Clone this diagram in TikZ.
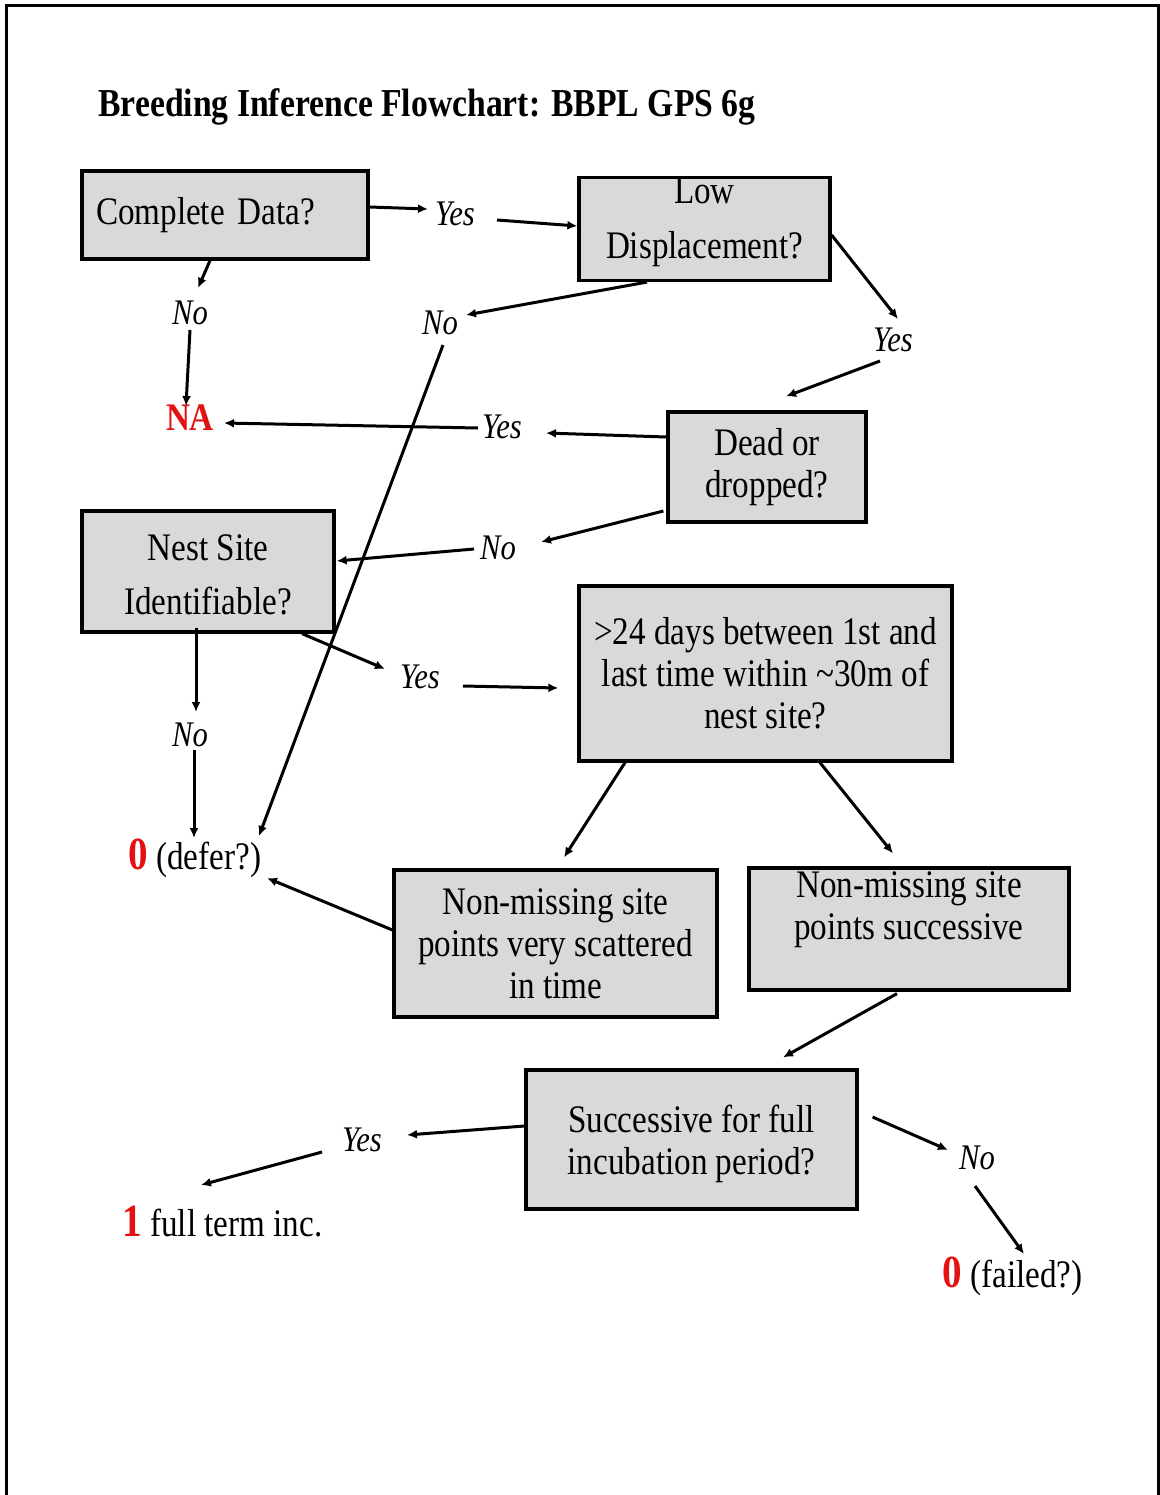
\documentclass[tikz,border=0pt]{standalone}
\usepackage{fontspec}
\setmainfont{Liberation Serif}[FakeStretch=0.85]
\usetikzlibrary{arrows.meta}
\definecolor{boxgray}{RGB}{217,217,217}
\definecolor{resred}{RGB}{226,18,18}
\newcommand{\resultat}[1]{{\fontsize{23}{25}\selectfont\bfseries\color{resred}#1}}
\tikzset{
  >={Latex[length=5pt,width=4.5pt]},
  question/.style={draw=black, line width=1.6pt, fill=boxgray, align=center,
    font=\fontsize{19.5}{21}\selectfont, inner sep=2pt, minimum width=#1},
  question/.default=150pt,
  reponse/.style={font=\fontsize{18}{20}\selectfont\itshape, inner sep=0pt},
  issue/.style={font=\fontsize{19.5}{21}\selectfont, inner sep=0pt, anchor=base west},
  fleche/.style={->, line width=1.5pt},
  cadre/.style={line width=1.5pt},
}
\begin{document}
\begin{tikzpicture}[x=0.5pt,y=-0.5pt]
  \useasboundingbox (0,0) rectangle (1160,1495);
  \draw[cadre] (6,1495) -- (6,5) -- (1158,5) -- (1158,1495);
  \node[font=\fontsize{19.8}{22}\selectfont\bfseries, anchor=base west, inner sep=0pt] (titre) at (98,116) {Breeding Inference Flowchart: BBPL GPS 6g};
  % Questions
  \node[question=143pt, minimum height=44pt, align=left, text width=129pt, inner xsep=7pt] (complete) at (225,215) {Complete Data?};
  \node[question=125.5pt, minimum height=51pt, font=\fontsize{19.5}{27.5}\selectfont, inner ysep=0pt, text depth=11.2pt] (lowdisp) at (704.5,229) {Low\\ Displacement?};
  \node[question=99pt, minimum height=55pt] (dead) at (767,467) {Dead or\\ dropped?};
  \node[question=126pt, minimum height=60.5pt, font=\fontsize{19.5}{27}\selectfont, text height=43pt] (nest) at (208,571.5) {Nest Site\\ Identifiable?};
  \node[question=186.5pt, minimum height=87.5pt] (days) at (765.5,673.5) {>24 days between 1st and\\ last time within \textasciitilde30m of\\ nest site?};
  \node[question=161.5pt, minimum height=73.5pt] (scattered) at (555.5,943.5) {Non-missing site\\ points very scattered\\ in time};
  \node[question=160pt, minimum height=61pt, inner ysep=0pt, text depth=23pt] (successive) at (909,929) {Non-missing site\\ points successive};
  \node[question=165.5pt, minimum height=69.5pt, text height=39pt] (fullinc) at (691.5,1139.5) {Successive for full\\ incubation period?};
  % Reponses
  \node[reponse] (yesA) at (455,214) {Yes};
  \node[reponse] (noA) at (190,313) {No};
  \node[reponse] (noB) at (440,323) {No};
  \node[reponse] (yesB) at (893,340) {Yes};
  \node[reponse] (yesC) at (502,427) {Yes};
  \node[reponse] (noC) at (498,548) {No};
  \node[reponse] (yesD) at (420,677) {Yes};
  \node[reponse] (noD) at (190,735) {No};
  \node[reponse] (yesE) at (362,1140) {Yes};
  \node[reponse] (noE) at (977,1158) {No};
  % Issues
  \node[inner sep=0pt, font=\fontsize{19.5}{21}\selectfont\bfseries, text=resred] (na) at (190,418) {NA};
  \node[issue] (defer) at (128,869) {\resultat{0} (defer?)};
  \node[issue] (fullterm) at (122,1236) {\resultat{1} full term inc.};
  \node[issue] (failed) at (942,1287) {\resultat{0} (failed?)};
  % Fleches
  \draw[fleche] ([yshift=4pt]complete.east) -- ([xshift=-13.5pt,yshift=2.5pt]yesA.center);
  \draw[fleche] ([xshift=21pt,yshift=-3pt]yesA.center) -- ([yshift=1.5pt]lowdisp.west);
  \draw[fleche] ([xshift=-7.5pt]complete.south) -- ([xshift=4pt,yshift=12.5pt]noA.center);
  \draw[fleche] ([yshift=-8.5pt]noA.center) -- ([xshift=-2pt,yshift=6pt]na.center);
  \draw[fleche] ([xshift=-28.75pt]lowdisp.south) -- ([xshift=13pt,yshift=4pt]noB.center);
  \draw[fleche] ([xshift=1.5pt,yshift=-11pt]noB.center) -- ([xshift=65.5pt,yshift=16.5pt]defer.base west);
  \draw[fleche] ([yshift=-3pt]lowdisp.east) -- ([xshift=2.5pt,yshift=10.5pt]yesB.center);
  \draw[fleche] ([xshift=-6.5pt,yshift=-10.5pt]yesB.center) -- ([xshift=9.5pt,yshift=7pt]dead.north);
  \draw[fleche] ([yshift=15pt]dead.west) -- ([xshift=22pt,yshift=-3pt]yesC.center);
  \draw[fleche] ([xshift=-12pt,yshift=-0.5pt]yesC.center) -- ([xshift=17pt,yshift=-2.5pt]na.center);
  \draw[fleche] ([xshift=-1.5pt,yshift=-22pt]dead.west) -- ([xshift=21.5pt,yshift=3pt]noC.center);
  \draw[fleche] ([xshift=-12pt,yshift=-0.5pt]noC.center) -- ([xshift=0.5pt,yshift=5.25pt]nest.east);
  \draw[fleche] ([xshift=47pt]nest.south) -- ([xshift=-17.5pt,yshift=4pt]yesD.center);
  \draw[fleche] ([xshift=21.5pt,yshift=-4.5pt]yesD.center) -- ([xshift=-9.5pt,yshift=-7.25pt]days.west);
  \draw[fleche] ([xshift=-6pt,yshift=3pt]nest.south) -- ([xshift=3pt,yshift=11.5pt]noD.center);
  \draw[fleche] ([xshift=2pt,yshift=-7.5pt]noD.center) -- ([xshift=33pt,yshift=15.5pt]defer.base west);
  \draw[fleche] ([xshift=-70.25pt]days.south) -- ([xshift=4.25pt,yshift=5.5pt]scattered.north);
  \draw[fleche] ([xshift=27.25pt]days.south) -- ([xshift=-8pt,yshift=6.5pt]successive.north);
  \draw[fleche] ([yshift=6.75pt]scattered.west) -- ([xshift=69.5pt,yshift=-4.5pt]defer.base west);
  \draw[fleche] ([xshift=-6pt,yshift=-1pt]successive.south) -- ([xshift=45.75pt,yshift=5.5pt]fullinc.north);
  \draw[fleche] ([yshift=6.75pt]fullinc.west) -- ([xshift=22.5pt,yshift=2.5pt]yesE.center);
  \draw[fleche] ([xshift=-20pt,yshift=-6pt]yesE.center) -- ([xshift=39.5pt,yshift=25.5pt]fullterm.base west);
  \draw[fleche] ([xshift=7pt,yshift=11.25pt]fullinc.east) -- ([xshift=-14.5pt,yshift=4pt]noE.center);
  \draw[fleche] ([xshift=-1pt,yshift=-14pt]noE.center) -- ([xshift=41pt,yshift=16.5pt]failed.base west);
\end{tikzpicture}
\end{document}
